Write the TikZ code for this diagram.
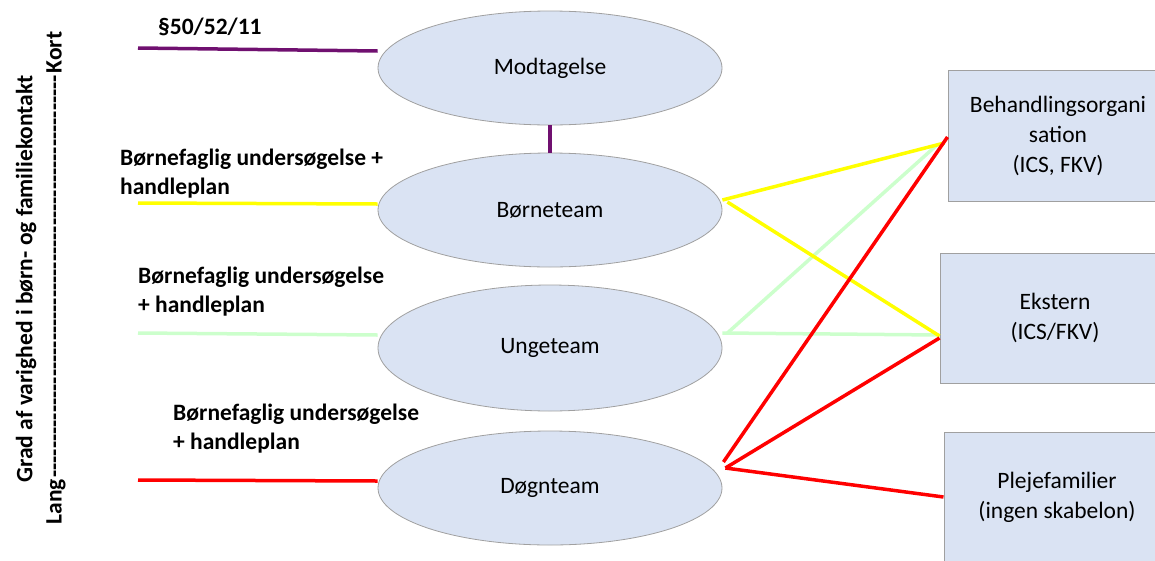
\documentclass[tikz,border=0pt]{standalone}
\usepackage{fontspec}
\setmainfont{Carlito}
\usetikzlibrary{shapes.geometric,calc}
\definecolor{nodefill}{RGB}{218,227,243}
\definecolor{nodeline}{RGB}{160,160,160}
\definecolor{lilla}{RGB}{112,16,112}
\definecolor{gul}{RGB}{255,255,0}
\definecolor{lysgron}{RGB}{204,255,204}
\definecolor{rod}{RGB}{255,0,0}
\tikzset{
  team/.style={ellipse, draw=nodeline, fill=nodefill, line width=0.8pt,
    minimum width=344pt, inner sep=0pt,
    font=\fontsize{23.5}{30}\selectfont},
  tilbud/.style={rectangle, draw=nodeline, fill=nodefill, line width=1pt,
    inner sep=0pt, align=center,
    font=\fontsize{23.5}{30}\selectfont},
  lbl/.style={anchor=west, align=left, inner sep=0pt,
    font=\fontsize{23.5}{29}\selectfont\bfseries},
  axis/.style={rotate=90, inner sep=0pt,
    font=\fontsize{23.5}{29}\selectfont\bfseries},
  link/.style={line width=3.5pt},
}
\begin{document}
\begin{tikzpicture}[x=1pt,y=-1pt]
\path[use as bounding box] (0,0) rectangle (1155,560);
\clip (0,0) rectangle (1155,560);

% teams
\node[team, minimum height=114pt] (mod)  at (550,68)  {Modtagelse};
\node[team, minimum height=114pt] (born) at (550,210) {Børneteam};
\node[team, minimum height=126pt] (unge) at (550,348) {Ungeteam};
\node[team, minimum height=114pt] (dogn) at (550,488) {Døgnteam};

% destinations
\node[tilbud, minimum width=220pt, minimum height=131pt] (beh)  at (1058,135.5)
  {Behandlingsorgani\\sation\\(ICS, FKV)};
\node[tilbud, minimum width=230pt, minimum height=130pt] (eks)  at (1055,318)
  {Ekstern\\(ICS/FKV)};
\node[tilbud, minimum width=226pt, minimum height=130pt] (plej) at (1057,497)
  {Plejefamilier\\(ingen skabelon)};

% labels
\node[lbl] (l1) at (158,27) {§50/52/11};
\node[lbl] (l2) at (120,174) {Børnefaglig undersøgelse +\\handleplan};
\node[lbl] (l3) at (138,292) {Børnefaglig undersøgelse\\+ handleplan};
\node[lbl] (l4) at (173,429) {Børnefaglig undersøgelse\\+ handleplan};

% axis
\node[axis] (grad) at (26,279) {Grad af varighed i børn- og familiekontakt};
\node[axis] (lang) at (56,278)
  {\hbox to 493pt{Lang\cleaders\hbox{-}\hfill Kort}};

% incoming lines
\coordinate (p0) at (138,48);
\coordinate (y0) at (138,203);
\coordinate (g0) at (138,333);
\coordinate (r0) at (138,480);
\draw[link, lilla] (p0) -- ($(mod.west)+(0,-17)$);
\draw[link, lilla] (mod.south) -- (born.north);
\draw[link, gul] (y0) -- ($(born.west)+(0,-6)$);
\draw[link, lysgron] (g0) -- ($(unge.west)+(0,-13)$);
\draw[link, rod] (r0) -- ($(dogn.west)+(0,-7)$);

% outgoing lines
\draw[link, lysgron] ($(unge.east)+(0,-15)$) -- ($(eks.west)+(0,17)$);
\draw[link, lysgron] ($(unge.east)+(5,-15)$) -- ($(beh.west)+(-10,9)$);
\draw[link, gul] ($(born.east)+(0,-10)$) -- ($(beh.west)+(-3,7.5)$);
\draw[link, gul] ($(born.east)+(5,-8)$) -- ($(eks.west)+(0,18)$);
\draw[link, rod] ($(dogn.east)+(1,-26)$) -- ($(beh.west)+(0,1.5)$);
\draw[link, rod] ($(dogn.east)+(3,-20)$) -- ($(eks.west)+(0,20)$);
\draw[link, rod] ($(dogn.east)+(3,-20)$) -- (plej.west);
\end{tikzpicture}
\end{document}
